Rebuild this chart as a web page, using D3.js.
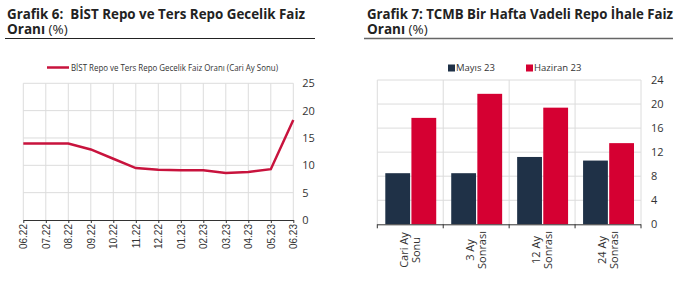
<!DOCTYPE html>
<html><head><meta charset="utf-8">
<script src="https://cdn.jsdelivr.net/npm/d3@7"></script>
<style>body{margin:0;background:#fff}svg{display:block}</style>
</head><body>
<script>
// Left chart data
const months = ["06.22","07.22","08.22","09.22","10.22","11.22","12.22","01.23","02.23","03.23","04.23","05.23","06.23"];
const repoRate = [14.0,14.0,14.0,12.9,11.2,9.5,9.2,9.1,9.1,8.6,8.8,9.3,18.3];
const lineTicks = [0,5,10,15,20,25];
const lineLegend = "BİST Repo ve Ters Repo Gecelik Faiz Oranı (Cari Ay Sonu)";

// Right chart data
const horizons = [["Cari Ay","Sonu"],["3 Ay","Sonrası"],["12 Ay","Sonrası"],["24 Ay","Sonrası"]];
const seriesNames = ["Mayıs 23","Haziran 23"];
const may23 = [8.5,8.5,11.2,10.6];
const jun23 = [17.7,21.7,19.4,13.5];
const barTicks = [0,4,8,12,16,20,24];

const W=681,H=294;
const svg=d3.select("body").append("svg").attr("width",W).attr("height",H);
const fontT="'Open Sans', sans-serif";
const fontA="'Liberation Sans', Arial, sans-serif";

function title(x,l1,len1,l2,lineX0,lineX1,lineColor,lineW){
  svg.append("text").attr("x",x).attr("y",18.5).attr("font-family",fontT).attr("font-weight",700).attr("font-size",13.5)
    .attr("fill","#222").attr("xml:space","preserve").attr("textLength",len1).attr("lengthAdjust","spacingAndGlyphs").text(l1);
  const t2=svg.append("text").attr("x",x).attr("y",33.5).attr("font-family",fontT).attr("font-size",13.5).attr("fill","#222");
  t2.append("tspan").attr("font-weight",700).text(l2[0]);
  t2.append("tspan").attr("font-weight",400).text(l2[1]);
  svg.append("line").attr("x1",lineX0).attr("x2",lineX1).attr("y1",38.5).attr("y2",38.5).attr("stroke",lineColor).attr("stroke-width",lineW);
}
title(7,"Grafik 6:\u00a0 BİST Repo ve Ters Repo Gecelik Faiz",298,["Oranı"," (%)"],5,315,"#222",1);
title(367,"Grafik 7: TCMB Bir Hafta Vadeli Repo İhale Faiz",306,["Oranı"," (%)"],364,673,"#666",1.5);

// ---- Line chart
const x=d3.scalePoint().domain(months).range([23.3,293.3]);
const y=d3.scaleLinear().domain([0,25]).range([220,83.3]);
const g=svg.append("g");
g.append("g").selectAll("line").data(months).join("line")
 .attr("x1",d=>x(d)).attr("x2",d=>x(d)).attr("y1",y(25)).attr("y2",y(0)).attr("stroke","#dcdcdc");
g.append("g").selectAll("line").data(lineTicks.slice(1)).join("line")
 .attr("x1",x.range()[0]).attr("x2",x.range()[1]).attr("y1",d=>y(d)).attr("y2",d=>y(d)).attr("stroke","#dcdcdc");
const xa=g.append("g").attr("transform",`translate(0,${y(0)})`).call(d3.axisBottom(x).tickSize(3).tickSizeOuter(0));
xa.select(".domain").attr("stroke","#333");
xa.selectAll(".tick line").attr("stroke","#333");
xa.selectAll("text").attr("font-family",fontA).attr("font-size",10).attr("fill","#333")
  .attr("text-anchor","end").attr("dx",-4).attr("dy",3.5).attr("x",0).attr("y",0)
  .attr("transform","rotate(-90)");
const ya=g.append("g").attr("transform",`translate(${x.range()[1]},0)`).call(d3.axisRight(y).tickValues(lineTicks).tickSize(0).tickPadding(9));
ya.select(".domain").remove();
ya.selectAll("text").attr("font-family",fontT).attr("font-size",11).attr("fill","#333");
g.append("path").datum(repoRate).attr("fill","none").attr("stroke","#c8133d").attr("stroke-width",2.5)
 .attr("d",d3.line().x((d,i)=>x(months[i])).y(d=>y(d)));
// legend
g.append("line").attr("x1",47).attr("x2",69).attr("y1",67.5).attr("y2",67.5).attr("stroke","#c8133d").attr("stroke-width",2.5);
g.append("text").attr("x",71).attr("y",70.5).attr("font-family",fontT).attr("font-size",9.5).attr("fill","#333")
 .attr("textLength",207).attr("lengthAdjust","spacingAndGlyphs").text(lineLegend);

// ---- Bar chart
const xb=d3.scaleBand().domain(d3.range(horizons.length)).range([377.3,641]).paddingInner(0).paddingOuter(0);
const yb=d3.scaleLinear().domain([0,24]).range([224.3,80]);
const sub=d3.scaleBand().domain([0,1]).range([8,xb.bandwidth()-7]).paddingInner(0.05);
const gb=svg.append("g");
gb.append("g").selectAll("line").data(barTicks.slice(1)).join("line")
 .attr("x1",xb.range()[0]).attr("x2",xb.range()[1]).attr("y1",d=>yb(d)).attr("y2",d=>yb(d)).attr("stroke","#dcdcdc");
gb.append("g").selectAll("line").data(d3.range(horizons.length+1)).join("line")
 .attr("x1",d=>xb.range()[0]+d*xb.step()).attr("x2",d=>xb.range()[0]+d*xb.step()).attr("y1",yb(24)).attr("y2",yb(0)).attr("stroke","#dcdcdc");
const colors=["#1f3147","#d50032"];
[may23,jun23].forEach((vals,si)=>{
  gb.append("g").selectAll("rect").data(vals).join("rect")
   .attr("x",(d,i)=>xb(i)+sub(si)).attr("width",sub.bandwidth())
   .attr("y",d=>yb(d)).attr("height",d=>yb(0)-yb(d)).attr("fill",colors[si]);
});
// x axis
gb.append("line").attr("x1",xb.range()[0]).attr("x2",xb.range()[1]).attr("y1",yb(0)+0.5).attr("y2",yb(0)+0.5).attr("stroke","#333");
gb.append("g").selectAll("line").data(d3.range(horizons.length+1)).join("line")
 .attr("x1",d=>xb.range()[0]+d*xb.step()).attr("x2",d=>xb.range()[0]+d*xb.step()).attr("y1",yb(0)).attr("y2",yb(0)+4).attr("stroke","#333");
horizons.forEach((lines,i)=>{
  const cx=xb(i)+xb.bandwidth()/2;
  const t=gb.append("text").attr("transform",`translate(${cx},250) rotate(-90)`)
    .attr("font-family",fontT).attr("font-size",11).attr("fill","#333").attr("text-anchor","middle");
  t.append("tspan").attr("x",0).attr("dy",-2.5).text(lines[0]);
  t.append("tspan").attr("x",0).attr("dy",12.5).text(lines[1]);
});
const yba=gb.append("g").attr("transform",`translate(${xb.range()[1]},0)`).call(d3.axisRight(yb).tickValues(barTicks).tickSize(0).tickPadding(10));
yba.select(".domain").remove();
yba.selectAll("text").attr("font-family",fontT).attr("font-size",11).attr("fill","#333");
// legend
const legX=[448,526];
seriesNames.forEach((n,i)=>{
  gb.append("rect").attr("x",legX[i]).attr("y",64.5).attr("width",7).attr("height",7).attr("fill",colors[i]);
  gb.append("text").attr("x",legX[i]+8).attr("y",71).attr("font-family",fontT).attr("font-size",9.5).attr("fill","#333").text(n);
});
</script>
</body></html>
